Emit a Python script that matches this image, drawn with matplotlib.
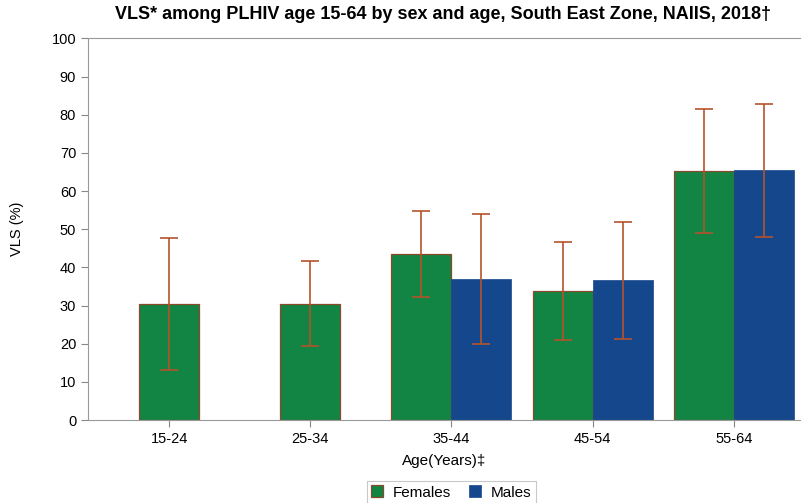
import matplotlib.pyplot as plt
import numpy as np

plt.rcParams['font.family'] = ['Liberation Sans', 'DejaVu Sans']

# data
ages = ["15-24", "25-34", "35-44", "45-54", "55-64"]
fem_vls = [30.4, 30.5, 43.4, 33.9, 65.2]
fem_lo = [13.1, 19.4, 32.2, 21.0, 48.9]
fem_hi = [47.8, 41.7, 54.8, 46.7, 81.5]
male_ages = ["35-44", "45-54", "55-64"]
male_vls = [36.9, 36.6, 65.4]
male_lo = [19.8, 21.2, 48.0]
male_hi = [54.1, 51.8, 82.8]

green = "#128444"
blue = "#15478c"
err_col = "#b4532c"

fig = plt.figure(figsize=(8.02, 5.03), dpi=100)
ax = fig.add_axes([0.1097, 0.165, 0.8878, 0.7585])

x = np.arange(len(ages))
w = 0.425
# females sit at the centre where there is no male bar
has_male = [a in male_ages for a in ages]
fx = np.array([xi - w / 2 if m else xi for xi, m in zip(x, has_male)])
mx = np.array([ages.index(a) + w / 2 for a in male_ages])

fem_vls = np.array(fem_vls)
male_vls = np.array(male_vls)
fem_err = [fem_vls - np.array(fem_lo), np.array(fem_hi) - fem_vls]
male_err = [male_vls - np.array(male_lo), np.array(male_hi) - male_vls]

ax.bar(fx, fem_vls, width=w, color=green, edgecolor="#8a4a2a", linewidth=0.9,
       label="Females", zorder=2)
ax.bar(mx, male_vls, width=w, color=blue, edgecolor=blue, linewidth=0.5,
       label="Males", zorder=2)
ax.errorbar(fx, fem_vls, yerr=fem_err, fmt="none", ecolor=err_col,
            elinewidth=1.2, capsize=6.5, capthick=1.2, zorder=3)
ax.errorbar(mx, male_vls, yerr=male_err, fmt="none", ecolor=err_col,
            elinewidth=1.2, capsize=6.5, capthick=1.2, zorder=3)

ax.set_xlim(-0.575, 4.47)
ax.set_ylim(0, 100)
ax.set_yticks(range(0, 101, 10))
ax.set_xticks(x)
ax.set_xticklabels(ages)
ax.tick_params(labelsize=10.5, color="#888888", length=5)
for s in ["left", "bottom", "top"]:
    ax.spines[s].set_color("#999999")
ax.spines["right"].set_visible(False)

ax.set_ylabel("VLS (%)", fontsize=10.5, labelpad=20)
ax.set_xlabel("Age(Years)\u2021", fontsize=11, labelpad=6)
fig.text(0.552, 0.972, "VLS* among PLHIV age 15-64 by sex and age, South East Zone, NAIIS, 2018\u2020",
         ha="center", va="center", fontsize=13, fontweight="bold")

leg = fig.legend(loc="center", bbox_to_anchor=(0.5625, 0.021), ncol=2, fontsize=11,
                 frameon=True, fancybox=False, handlelength=0.8, handleheight=0.8,
                 borderpad=0.3, columnspacing=1.2, handletextpad=0.6)
leg.get_frame().set_edgecolor("#bbbbbb")
leg.get_frame().set_linewidth(0.8)

fig.savefig("out.png", dpi=100)
